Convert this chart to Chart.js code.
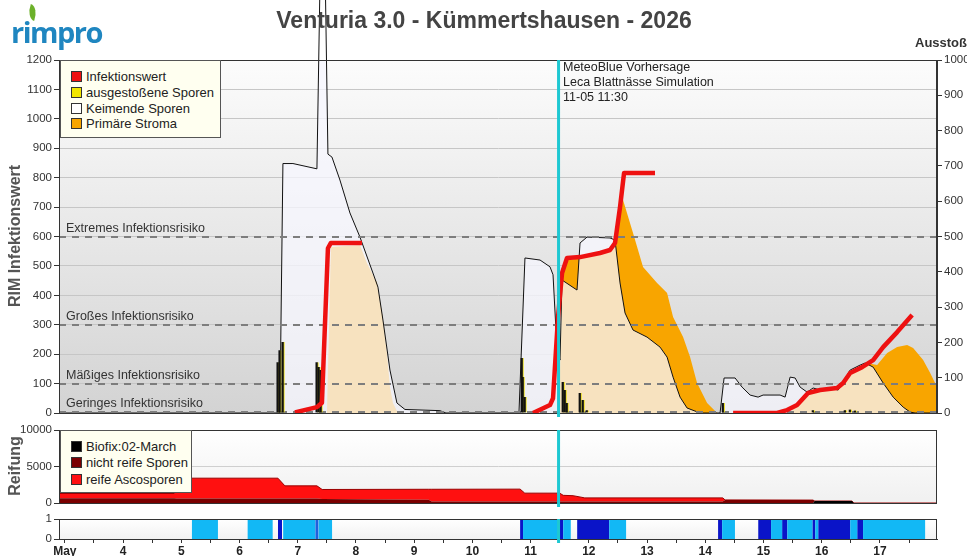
<!DOCTYPE html>
<html>
<head>
<meta charset="utf-8">
<script src="https://cdn.jsdelivr.net/npm/chart.js@4.4.1/dist/chart.umd.min.js"></script>
<style>
  body { margin: 0; width: 967px; height: 556px; position: relative; overflow: hidden; background: #fff;
         font-family: "Liberation Sans", Arial, sans-serif; color: #222; }
  canvas { position: absolute; left: 0; }
  .t { position: absolute; white-space: nowrap; }
  .box { position: absolute; background: #fffff0; border: 1px solid #555; box-sizing: border-box; }
  .row { font-size: 13px; display: flex; align-items: center; }
  .sq { width: 9px; height: 9px; border: 1px solid #333; margin-right: 4px; }
  .ylab { position: absolute; transform: translate(-50%, -50%) rotate(-90deg); font-weight: bold;
          font-size: 16px; color: #555; white-space: nowrap; }
</style>
</head>
<body>
<canvas id="main" width="967" height="423" style="top:0"></canvas>
<canvas id="reif" width="967" height="93" style="top:420px"></canvas>
<canvas id="wet" width="967" height="46" style="top:510px"></canvas>

<div class="t" style="left:12px;top:8px;width:14px;height:16px;">
  <div style="position:absolute;left:16px;top:-3px;width:9px;height:15px;background:#6cb12a;border-radius:0 100% 0 100%;transform:rotate(20deg);"></div>
</div>
<div class="t" style="left:11px;top:12px;font-family:'Open Sans',sans-serif;font-weight:bold;font-size:29px;color:#1f86c0;letter-spacing:-1.5px;">rimpro</div>
<div class="t" style="left:0;width:968px;text-align:center;top:7px;font-weight:bold;font-size:23px;color:#444;">Venturia 3.0 - Kümmertshausen - 2026</div>
<div class="t" style="right:0;top:35px;font-weight:bold;font-size:13px;color:#333;">Ausstoß</div>
<div class="ylab" style="left:15px;top:236px;">RIM Infektionswert</div>
<div class="ylab" style="left:15px;top:466px;">Reifung</div>

<div class="t" style="left:563px;top:60px;font-size:12.5px;line-height:15px;color:#222;">MeteoBlue Vorhersage<br>Leca Blattnässe Simulation<br>11-05 11:30</div>

<div class="box" style="left:60px;top:60px;width:161px;height:78px;padding:8px 0 0 10px;">
  <div class="row" style="height:15.7px"><div class="sq" style="background:#ee1111"></div>Infektionswert</div>
  <div class="row" style="height:15.7px"><div class="sq" style="background:#f2e600"></div>ausgestoßene Sporen</div>
  <div class="row" style="height:15.7px"><div class="sq" style="background:#fff"></div>Keimende Sporen</div>
  <div class="row" style="height:15.7px"><div class="sq" style="background:#f8a500"></div>Primäre Stroma</div>
</div>
<div class="box" style="left:60px;top:430px;width:132px;height:63px;padding:7px 0 0 10px;">
  <div class="row" style="height:16.5px"><div class="sq" style="background:#000"></div>Biofix:02-March</div>
  <div class="row" style="height:16.5px"><div class="sq" style="background:#7a0000"></div>nicht reife Sporen</div>
  <div class="row" style="height:16.5px"><div class="sq" style="background:#ff1010"></div>reife Ascosporen</div>
</div>

<script>
// time axis in days of May
const xMin = 2.9, xMax = 17.98;
const nowDay = 11.48;
const tickDays = [3, 4, 5, 6, 7, 8, 9, 10, 11, 12, 13, 14, 15, 16, 17];
const tickLabels = ['May', '4', '5', '6', '7', '8', '9', '10', '11', '12', '13', '14', '15', '16', '17'];

// risk levels (RIM)
const riskLevels = [600, 300, 100, 5];
const riskLabels = ['Extremes Infektionsrisiko', 'Großes Infektionsrisiko', 'Mäßiges Infektionsrisiko', 'Geringes Infektionsrisiko'];

// Infektionswert (red line), null = gap
const infDays = [6.952, 7.330, 7.416, 7.519, 7.570, 8.103, 8.2,
  11.041, 11.333, 11.385, 11.471, 11.540, 11.625, 11.849, 12.192, 12.364, 12.450, 12.536, 12.605, 13.137, 13.2,
  14.478, 15.234, 15.405, 15.577, 15.766, 15.973, 16.265, 16.368, 16.488, 16.694, 16.883, 17.055, 17.296, 17.553];
const infVals = [2, 20, 35, 560, 578, 578, null,
  0, 27, 50, 326, 476, 527, 530, 544, 554, 578, 700, 816, 816, null,
  0, 0, 10, 27, 68, 78, 85, 102, 136, 156, 180, 224, 275, 333];

// Keimende Sporen
const keimDays = [2.9, 6.694, 6.746, 6.918, 7.330, 7.390, 7.467, 7.519, 7.588, 7.725, 7.897, 8.069, 8.292, 8.378,
  8.464, 8.584, 8.704, 8.842, 9.443, 9.546, 10.800, 10.903, 11.162, 11.333, 11.385, 11.454, 11.505, 11.540,
  11.797, 11.849, 11.969, 12.364, 12.450, 12.536, 12.622, 12.759, 13.000, 13.223, 13.344, 13.447, 13.567,
  13.687, 13.911, 14.254, 14.323, 14.512, 14.632, 14.770, 14.907, 14.993, 15.285, 15.371, 15.457, 15.543,
  15.629, 15.749, 15.852, 15.973, 16.144, 16.282, 16.368, 16.488, 16.660, 16.746, 16.883, 17.055, 17.227,
  17.399, 17.519, 17.605, 17.98];
const keimVals = [0, 0, 848, 848, 830, 1550, 1550, 880, 870, 792, 680, 598, 476, 428,
  316, 146, 34, 12, 8, 0, 0, 527, 520, 497, 470, 214, 180, 452,
  418, 578, 598, 595, 588, 442, 340, 282, 258, 224, 190, 122, 54,
  17, 0, 0, 119, 119, 88, 61, 54, 61, 61, 54, 122, 119,
  88, 71, 85, 78, 85, 78, 105, 146, 163, 170, 156, 102, 54,
  20, 3, 0, 0];

// Primäre Stroma
const stromaDays = [2.9, 7.502, 7.570, 8.069, 8.189, 8.361, 8.447, 8.533, 8.584, 8.636, 8.722,
  11.454, 11.505, 11.557, 11.625, 11.849, 12.192, 12.416, 12.502, 12.588, 12.759, 12.931, 13.172, 13.344,
  13.447, 13.619, 13.739, 13.859, 14.031, 14.203, 15.457, 15.629, 15.749, 16.265, 16.436, 16.780, 16.952,
  17.124, 17.296, 17.467, 17.570, 17.742, 17.863, 17.98];
const stromaVals = [0, 0, 564, 571, 510, 442, 340, 204, 88, 34, 0,
  0, 150, 500, 520, 525, 540, 554, 650, 724, 612, 496, 442, 408,
  326, 258, 190, 102, 34, 0, 0, 40, 61, 85, 122, 170, 163,
  204, 224, 231, 221, 180, 136, 88];

// ausgestoßene Sporen (Ausstoß, right axis)
const sporenDays = [6.660, 6.694, 6.746, 7.330, 7.364, 7.399, 10.852, 10.869, 10.903, 11.557, 11.591, 11.625,
  11.849, 11.900, 11.969, 14.306, 15.852, 16.402, 16.488, 16.574];
const sporenVals = [144, 178, 201, 144, 130, 122, 156, 102, 45, 88, 65, 28, 57, 37, 8, 28, 8, 8, 10, 7];

// Reifung
const reifDays = [2.9, 4.88, 4.92, 6.66, 6.78, 7.33, 7.42, 9.25, 9.3, 10.82, 10.9, 11.5, 11.56, 11.73, 11.93,
  14.3, 14.34, 15.85, 15.88, 16.52, 16.55, 17.98];
const biofix = [0, 0, 0, 0, 0, 0, 0, 0, 0, 0, 0, 0, 0, 0, 0, 0, 0, 0, 270, 270, 0, 0];
const nichtReif = [650, 650, 600, 600, 600, 600, 550, 450, 200, 200, 200, 200, 200, 200, 200, 200, 400, 400, 0, 0, 0, 0];
const reifeAsco = [650, 650, 2800, 2800, 1750, 1750, 1300, 1430, 1680, 1700, 1150, 1150, 850, 800, 500, 500, 20, 0, 0, 0, 0, 0];

// Blattnässe periods (level 1 = light, 2 = dark, 3 = medium)
const wetStart = [5.18, 6.14, 6.66, 6.75, 7.30, 7.36, 10.82, 10.87, 11.50, 11.56, 11.80, 12.35, 14.22, 14.29,
  14.91, 15.13, 15.32, 15.41, 15.84, 15.89, 15.94, 16.49, 16.61, 16.71];
const wetEnd = [5.63, 6.57, 6.73, 7.30, 7.36, 7.59, 10.87, 11.50, 11.56, 11.69, 12.35, 12.64, 14.29, 14.51,
  15.13, 15.32, 15.41, 15.84, 15.89, 15.94, 16.49, 16.61, 16.71, 17.78];
const wetLevel = [1, 1, 2, 1, 3, 1, 2, 1, 2, 1, 2, 1, 2, 1, 2, 1, 2, 1, 2, 1, 2, 1, 2, 1];
const wetColors = { 1: '#12b8f5', 2: '#0a14c8', 3: '#2060dc' };

function pts(xs, ys) { return xs.map((x, i) => ({ x: x, y: ys[i] })); }

const tickFont = { family: 'Liberation Sans', size: 11.5 };

const panel = {
  id: 'panel',
  beforeDraw(chart, args, opts) {
    const a = chart.chartArea, ctx = chart.ctx;
    const g = ctx.createLinearGradient(0, a.top, 0, a.bottom);
    g.addColorStop(0, opts.top);
    g.addColorStop(1, opts.bottom);
    ctx.save();
    ctx.fillStyle = g;
    ctx.fillRect(a.left, a.top, a.right - a.left, a.bottom - a.top);
    ctx.restore();
  },
  afterDraw(chart) {
    const a = chart.chartArea, ctx = chart.ctx;
    ctx.save();
    ctx.strokeStyle = '#333';
    ctx.lineWidth = 1;
    ctx.strokeRect(a.left + 0.5, a.top + 0.5, a.right - a.left - 1, a.bottom - a.top);
    const x = chart.scales.x.getPixelForValue(nowDay);
    ctx.strokeStyle = '#1ec8d2';
    ctx.lineWidth = 3;
    ctx.beginPath();
    ctx.moveTo(x, a.top);
    ctx.lineTo(x, a.bottom + 4);
    ctx.stroke();
    ctx.restore();
  }
};

const risk = {
  id: 'risk',
  afterDatasetDraw(chart, args) {
    if (args.index !== 2) return;
    const a = chart.chartArea, ctx = chart.ctx, y = chart.scales.y;
    ctx.save();
    ctx.strokeStyle = '#7d7d7d';
    ctx.lineWidth = 2;
    ctx.setLineDash([7, 6]);
    ctx.fillStyle = '#333';
    ctx.font = '12.5px "Liberation Sans"';
    ctx.textBaseline = 'alphabetic';
    riskLevels.forEach((lv, i) => {
      const py = Math.round(y.getPixelForValue(lv));
      ctx.beginPath();
      ctx.moveTo(a.left, py);
      ctx.lineTo(a.right, py);
      ctx.stroke();
      ctx.fillText(riskLabels[i], a.left + 7, py - 5);
    });
    ctx.restore();
  }
};

function xScale(show) {
  return {
    type: 'linear', min: xMin, max: xMax, offset: false, display: show,
    afterBuildTicks: s => { s.ticks = []; tickDays.forEach(d => { s.ticks.push({ value: d }); s.ticks.push({ value: d + 0.5 }); }); },
    afterFit: s => { if (show) s.height = 17; },
    grid: { display: true, drawOnChartArea: false, tickLength: 4, tickColor: '#333', offset: false },
    border: { color: '#333' },
    ticks: {
      autoSkip: false, maxRotation: 0, padding: 1, color: '#222',
      font: { family: 'Liberation Sans', size: 12, weight: 'bold' },
      callback: v => { const i = tickDays.indexOf(v); return i >= 0 ? tickLabels[i] : ''; }
    }
  };
}

function leftScale(min, max, step, gridColor) {
  return {
    min: min, max: max,
    afterFit: s => { s.width = 59; },
    ticks: { stepSize: step, color: '#333', font: tickFont, padding: 2, callback: v => String(v) },
    grid: { color: gridColor, tickLength: 5, tickColor: '#333' },
    border: { color: '#333' }
  };
}

new Chart(document.getElementById('main'), {
  type: 'line',
  data: {
    datasets: [
      { label: 'Infektionswert', data: pts(infDays, infVals), borderColor: '#ee1111', borderWidth: 4.5,
        pointRadius: 0, fill: false, spanGaps: false, order: 1, borderJoinStyle: 'round' },
      { type: 'bar', label: 'ausgestoßene Sporen', data: pts(sporenDays, sporenVals), yAxisID: 'y2',
        backgroundColor: '#111', borderColor: '#e8dc10', borderWidth: { left: 0, right: 1, top: 0, bottom: 0 },
        borderSkipped: false, barThickness: 3, order: 2 },
      { label: 'Keimende Sporen', data: pts(keimDays, keimVals), borderColor: '#111', borderWidth: 1,
        backgroundColor: 'rgba(247,247,255,0.75)', fill: 'origin', pointRadius: 0, clip: false, order: 3 },
      { label: 'Primäre Stroma', data: pts(stromaDays, stromaVals), borderWidth: 0,
        backgroundColor: '#f8a500', fill: 'origin', pointRadius: 0, order: 4 }
    ]
  },
  options: {
    responsive: false, animation: false,
    layout: { padding: { top: 60, bottom: 10, left: 0, right: 0 } },
    plugins: { legend: { display: false }, tooltip: { enabled: false }, panel: { top: '#fcfcfc', bottom: '#d3d3d3' } },
    scales: {
      x: xScale(false),
      y: leftScale(0, 1200, 100, '#c6c6c6'),
      y2: {
        position: 'right', min: 0, max: 1000,
        afterFit: s => { s.width = 30; },
        ticks: { stepSize: 100, color: '#333', font: tickFont, padding: 2, callback: v => String(v) },
        grid: { drawOnChartArea: false, tickLength: 5, tickColor: '#333' },
        border: { color: '#333' }
      }
    }
  },
  plugins: [panel, risk]
});

new Chart(document.getElementById('reif'), {
  type: 'line',
  data: {
    datasets: [
      { label: 'Biofix:02-March', data: pts(reifDays, biofix), backgroundColor: '#000', borderWidth: 0,
        fill: 'origin', pointRadius: 0 },
      { label: 'nicht reife Sporen', data: pts(reifDays, nichtReif), backgroundColor: '#7a0000', borderWidth: 0,
        fill: '-1', pointRadius: 0 },
      { label: 'reife Ascosporen', data: pts(reifDays, reifeAsco), backgroundColor: '#ff1010', borderColor: '#9a0000',
        borderWidth: 1, fill: '-1', pointRadius: 0 }
    ]
  },
  options: {
    responsive: false, animation: false,
    layout: { padding: { top: 10, bottom: 10, left: 0, right: 30 } },
    plugins: { legend: { display: false }, tooltip: { enabled: false }, panel: { top: '#ffffff', bottom: '#f0f0f0' } },
    scales: {
      x: xScale(false),
      y: Object.assign(leftScale(0, 10000, 5000, '#cfcfcf'), { stacked: true })
    }
  },
  plugins: [panel]
});

const wetSets = [1, 3, 2].map(lv => {
  const data = [];
  wetStart.forEach((s, i) => {
    if (wetLevel[i] !== lv) return;
    data.push({ x: s, y: 0 }, { x: s, y: 1 }, { x: wetEnd[i], y: 1 }, { x: wetEnd[i], y: 0 });
  });
  return { data: data, backgroundColor: wetColors[lv], borderWidth: 0, fill: 'origin', pointRadius: 0 };
});

new Chart(document.getElementById('wet'), {
  type: 'line',
  data: { datasets: wetSets },
  options: {
    responsive: false, animation: false,
    layout: { padding: { top: 9, bottom: 0, left: 0, right: 30 } },
    plugins: { legend: { display: false }, tooltip: { enabled: false }, panel: { top: '#ffffff', bottom: '#f2f2f2' } },
    scales: {
      x: xScale(true),
      y: leftScale(0, 1, 1, 'rgba(0,0,0,0)')
    }
  },
  plugins: [panel]
});
</script>
</body>
</html>
